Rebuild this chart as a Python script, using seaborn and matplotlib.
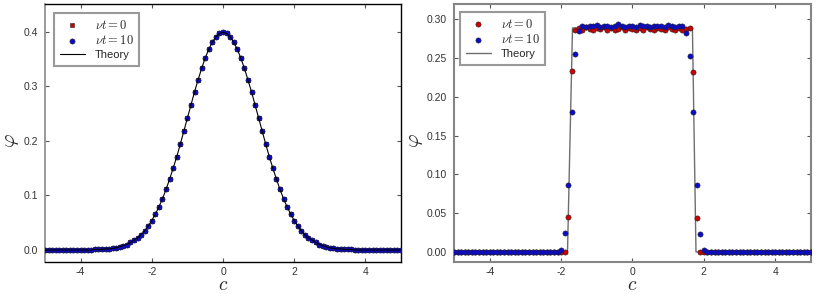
import matplotlib
matplotlib.use("Agg")
import matplotlib.pyplot as plt
import seaborn as sns
import pandas as pd

# sampling grid of the histogram bins (same for both panels)
c_grid = [
    -5.0, -4.9, -4.8, -4.7, -4.6, -4.5, -4.4, -4.3, -4.2, -4.1,
    -4.0, -3.9, -3.8, -3.7, -3.6, -3.5, -3.4, -3.3, -3.2, -3.1,
    -3.0, -2.9, -2.8, -2.7, -2.6, -2.5, -2.4, -2.3, -2.2, -2.1,
    -2.0, -1.9, -1.8, -1.7, -1.6, -1.5, -1.4, -1.3, -1.2, -1.1,
    -1.0, -0.9, -0.8, -0.7, -0.6, -0.5, -0.4, -0.3, -0.2, -0.1,
    0.0, 0.1, 0.2, 0.3, 0.4, 0.5, 0.6, 0.7, 0.8, 0.9,
    1.0, 1.1, 1.2, 1.3, 1.4, 1.5, 1.6, 1.7, 1.8, 1.9,
    2.0, 2.1, 2.2, 2.3, 2.4, 2.5, 2.6, 2.7, 2.8, 2.9,
    3.0, 3.1, 3.2, 3.3, 3.4, 3.5, 3.6, 3.7, 3.8, 3.9,
    4.0, 4.1, 4.2, 4.3, 4.4, 4.5, 4.6, 4.7, 4.8, 4.9,
    5.0,
]

# left panel: gaussian initial condition, both times sit on the theory curve
left_phi = [
    0.0, 0.0, 0.0, 0.0, 0.0, 0.0, 0.0, 0.0, 0.0, 0.0,
    0.0, 0.0, 0.0, 0.0, 0.001, 0.001, 0.001, 0.002, 0.002, 0.003,
    0.004, 0.006, 0.008, 0.010, 0.014, 0.018, 0.022, 0.028, 0.035, 0.044,
    0.054, 0.066, 0.079, 0.094, 0.111, 0.130, 0.150, 0.171, 0.194, 0.218,
    0.242, 0.266, 0.290, 0.312, 0.333, 0.352, 0.368, 0.381, 0.391, 0.397,
    0.399, 0.397, 0.391, 0.381, 0.368, 0.352, 0.333, 0.312, 0.290, 0.266,
    0.242, 0.218, 0.194, 0.171, 0.150, 0.130, 0.111, 0.094, 0.079, 0.066,
    0.054, 0.044, 0.035, 0.028, 0.022, 0.018, 0.014, 0.010, 0.008, 0.006,
    0.004, 0.003, 0.002, 0.002, 0.001, 0.001, 0.001, 0.0, 0.0, 0.0,
    0.0, 0.0, 0.0, 0.0, 0.0, 0.0, 0.0, 0.0, 0.0, 0.0,
    0.0,
]

# right panel: uniform initial condition
right_t0 = (
    [0.0] * 32
    + [0.045, 0.233]
    + [0.286, 0.289, 0.287, 0.290, 0.288, 0.286, 0.289, 0.288, 0.290, 0.287,
       0.289, 0.286, 0.288, 0.290, 0.287, 0.289, 0.288, 0.286, 0.289, 0.287,
       0.290, 0.288, 0.286, 0.289, 0.288, 0.287, 0.290, 0.288, 0.286, 0.289,
       0.287, 0.288, 0.289]
    + [0.232, 0.044]
    + [0.0] * 32
)
right_t10 = (
    [0.0] * 30
    + [0.003, 0.024, 0.086, 0.180, 0.255, 0.285]
    + [0.291, 0.290, 0.292, 0.291, 0.293, 0.290, 0.291, 0.292, 0.290, 0.291,
       0.294, 0.291, 0.290, 0.292, 0.291, 0.290, 0.293, 0.291, 0.292, 0.290,
       0.291, 0.292, 0.291, 0.290, 0.293, 0.291, 0.290, 0.292, 0.291]
    + [0.283, 0.253, 0.180, 0.086, 0.023, 0.003]
    + [0.0] * 30
)
right_theory_c = [-5.0, -1.82, -1.68, 1.68, 1.78, 5.0]
right_theory_phi = [0.0, 0.0, 0.289, 0.289, 0.0, 0.0]

labels = [r"$\nu t = 0$", r"$\nu t = 10$", "Theory"]

sns.set_theme(style="ticks")
plt.rcParams["font.family"] = ["Liberation Sans", "DejaVu Sans"]
plt.rcParams["mathtext.fontset"] = "cm"

RED = "#d00000"
BLUE = "#0a0ad0"
EDGE = "#202020"

fig = plt.figure(figsize=(8.3, 2.94), dpi=100)
ax1 = fig.add_axes([0.0542, 0.1088, 0.429, 0.8776])
ax2 = fig.add_axes([0.547, 0.1088, 0.430, 0.8776])

# --- left panel ---
sns.scatterplot(ax=ax1, x=c_grid, y=left_phi, marker="s", color=RED, s=9,
                edgecolor=EDGE, linewidth=0.4, label=labels[0], zorder=3)
sns.scatterplot(ax=ax1, x=c_grid, y=left_phi, marker="o", color=BLUE, s=14,
                edgecolor=EDGE, linewidth=0.4, label=labels[1], zorder=3)
sns.lineplot(ax=ax1, x=c_grid, y=left_phi, color="black", lw=0.8, sort=False,
             estimator=None, label=labels[2], zorder=4)
ax1.set_xlim(-5, 5)
ax1.set_ylim(-0.022, 0.451)
ax1.set_xticks([-4, -2, 0, 2, 4])
ax1.set_yticks([0.0, 0.1, 0.2, 0.3, 0.4])
ax1.set_yticklabels(["0.0", "0.1", "0.2", "0.3", "0.4"])
for side in ["top", "bottom", "right"]:
    ax1.spines[side].set_color("black")
    ax1.spines[side].set_linewidth(1.0)
ax1.spines["left"].set_color("#8a8a8a")
ax1.spines["left"].set_linewidth(1.2)

# --- right panel ---
sns.scatterplot(ax=ax2, x=c_grid, y=right_t0, marker="o", color=RED, s=14,
                edgecolor=EDGE, linewidth=0.4, label=labels[0], zorder=3)
sns.scatterplot(ax=ax2, x=c_grid, y=right_t10, marker="o", color=BLUE, s=14,
                edgecolor=EDGE, linewidth=0.4, label=labels[1], zorder=3)
sns.lineplot(ax=ax2, x=right_theory_c, y=right_theory_phi, color="#6e6e6e",
             lw=1.0, sort=False, estimator=None, label=labels[2], zorder=2)
ax2.set_xlim(-5, 5)
ax2.set_ylim(-0.013, 0.320)
ax2.set_xticks([-4, -2, 0, 2, 4])
ax2.set_yticks([0.0, 0.05, 0.10, 0.15, 0.20, 0.25, 0.30])
ax2.set_yticklabels(["0.00", "0.05", "0.10", "0.15", "0.20", "0.25", "0.30"])
for side in ax2.spines:
    ax2.spines[side].set_color("#858585")
    ax2.spines[side].set_linewidth(1.5)

for ax, anchor, ylab_x in [(ax1, (0.025, 0.965), -0.068), (ax2, (0.017, 0.969), -0.082)]:
    ax.tick_params(direction="in", length=3, width=0.8, top=True, right=True,
                   labelsize=7.5, labelcolor="#333333", color="#555555", pad=5)
    ax.tick_params(axis="x", pad=3.5)
    ax.set_xticklabels(["-4", "-2", "0", "2", "4"])
    ax.set_xlabel(r"$c$", fontsize=14, va="bottom")
    ax.xaxis.set_label_coords(0.5, -0.124)
    ax.set_ylabel(r"$\varphi$", fontsize=15)
    ax.yaxis.set_label_coords(ylab_x, 0.47)
    leg = ax.legend(loc="upper left", bbox_to_anchor=anchor, borderaxespad=0,
                    fontsize=9, frameon=True, fancybox=False, handlelength=2.0,
                    handletextpad=0.8, borderpad=0.45, labelspacing=0.2,
                    markerscale=1.0)
    leg.get_frame().set_edgecolor("#808080")
    leg.get_frame().set_linewidth(1.5)
    for t in leg.get_texts():
        if t.get_text() == "Theory":
            t.set_fontsize(8)

fig.savefig("out.png", dpi=100)
